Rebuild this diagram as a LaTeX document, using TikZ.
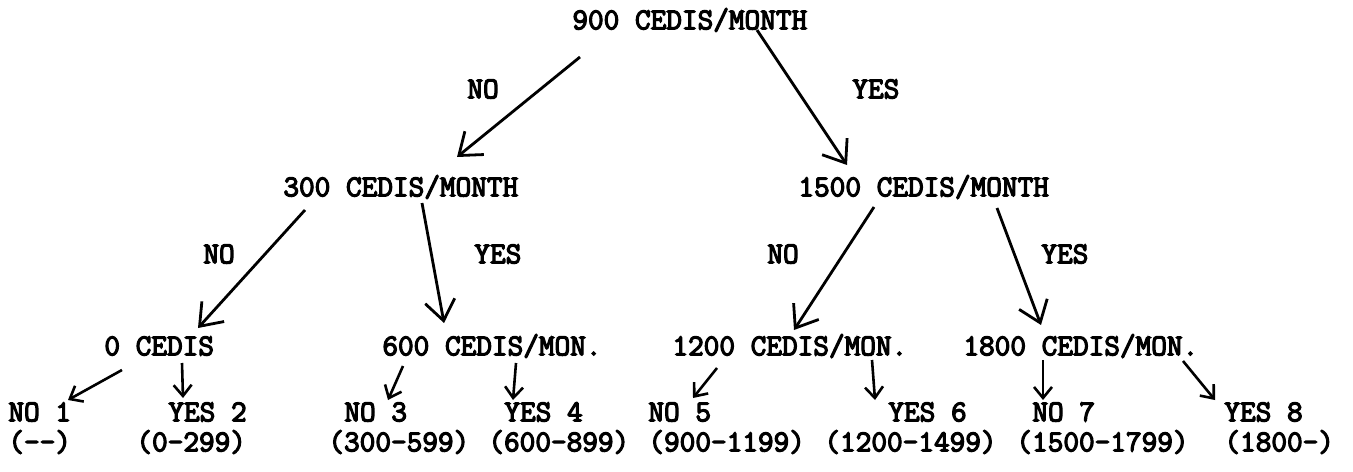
\documentclass[tikz,border=0pt]{standalone}
\usepackage{fontspec}
\usetikzlibrary{arrows.meta}
\newfontfamily\twfam{Latin Modern Mono}[FakeBold=4]
\newcommand{\twfont}{\twfam\bfseries\fontsize{15.2}{18}\selectfont}
\tikzset{
    txt/.style={anchor=west, inner sep=0pt, text height=9.3pt, text depth=0pt, font=\twfont},
    bigarr/.style={line width=1.4pt, -{Straight Barb[length=10pt,width=15pt]}},
    smallarr/.style={line width=1.3pt, -{Straight Barb[length=5.5pt,width=9pt]}}
}
\begin{document}
\begin{tikzpicture}[x=0.5pt,y=-0.5pt]
    \useasboundingbox (0,0) rectangle (1353,471);
    % questions
    \node[txt] (top) at (572,20) {900 CEDIS/MONTH};
    \node[txt] (m300) at (283,187) {300 CEDIS/MONTH};
    \node[txt] (m1500) at (798,187) {1500 CEDIS/MONTH};
    \node[txt] (c0) at (104,346) {0 CEDIS};
    \node[txt] (c600) at (382,346) {600 CEDIS/MON.};
    \node[txt] (c1200) at (672,346) {1200 CEDIS/MON.};
    \node[txt] (c1800) at (963,346) {1800 CEDIS/MON.};
    % answers on the branches
    \node[txt] (no0) at (467,89) {NO};
    \node[txt] (yes0) at (852,89) {YES};
    \node[txt] (noa) at (203,254) {NO};
    \node[txt] (yesa) at (474,254) {YES};
    \node[txt] (nob) at (767,254) {NO};
    \node[txt] (yesb) at (1041,254) {YES};
    % groups
    \node[txt] (n1) at (8,412) {NO 1};
    \node[txt] (y2) at (168,412) {YES 2};
    \node[txt] (n3) at (344,412) {NO 3};
    \node[txt] (y4) at (504,412) {YES 4};
    \node[txt] (n5) at (648,412) {NO 5};
    \node[txt] (y6) at (888,412) {YES 6};
    \node[txt] (n7) at (1032,412) {NO 7};
    \node[txt] (y8) at (1224,412) {YES 8};
    \node[txt] (r1) at (8,442) {(--)};
    \node[txt] (r2) at (136,442) {(0-299)};
    \node[txt] (r3) at (328,442) {(300-599)};
    \node[txt] (r4) at (488,442) {(600-899)};
    \node[txt] (r5) at (648,442) {(900-1199)};
    \node[txt] (r6) at (824,442) {(1200-1499)};
    \node[txt] (r7) at (1016,442) {(1500-1799)};
    \node[txt] (r8) at (1224,442) {(1800-)};
    % branches
    \draw[bigarr] ([shift={(8,37)}]top.west) -- ([shift={(174,-30)}]m300.west);
    \draw[bigarr] ([shift={(185,10)}]top.west) -- ([shift={(49,-22)}]m1500.west);
    \draw[bigarr] ([shift={(22,23)}]m300.west) -- ([shift={(94,-18)}]c0.west);
    \draw[bigarr] ([shift={(139,16)}]m300.west) -- ([shift={(62,-23)}]c600.west);
    \draw[bigarr] ([shift={(76,20)}]m1500.west) -- ([shift={(122,-16)}]c1200.west);
    \draw[bigarr] ([shift={(199,21)}]m1500.west) -- ([shift={(78,-21)}]c1800.west);
    \draw[smallarr] ([shift={(18,24)}]c0.west) -- ([shift={(60,-12)}]n1.west);
    \draw[smallarr] ([shift={(78,17)}]c0.west) -- ([shift={(15,-14)}]y2.west);
    \draw[smallarr] ([shift={(21,20)}]c600.west) -- ([shift={(44,-12)}]n3.west);
    \draw[smallarr] ([shift={(134,17)}]c600.west) -- ([shift={(9,-12)}]y4.west);
    \draw[smallarr] ([shift={(45,22)}]c1200.west) -- ([shift={(45,-14)}]n5.west);
    \draw[smallarr] ([shift={(200,14)}]c1200.west) -- ([shift={(-13,-12)}]y6.west);
    \draw[smallarr] ([shift={(80,14)}]c1800.west) -- ([shift={(11,-12)}]n7.west);
    \draw[smallarr] ([shift={(220,15)}]c1800.west) -- ([shift={(-9,-12)}]y8.west);
\end{tikzpicture}
\end{document}
